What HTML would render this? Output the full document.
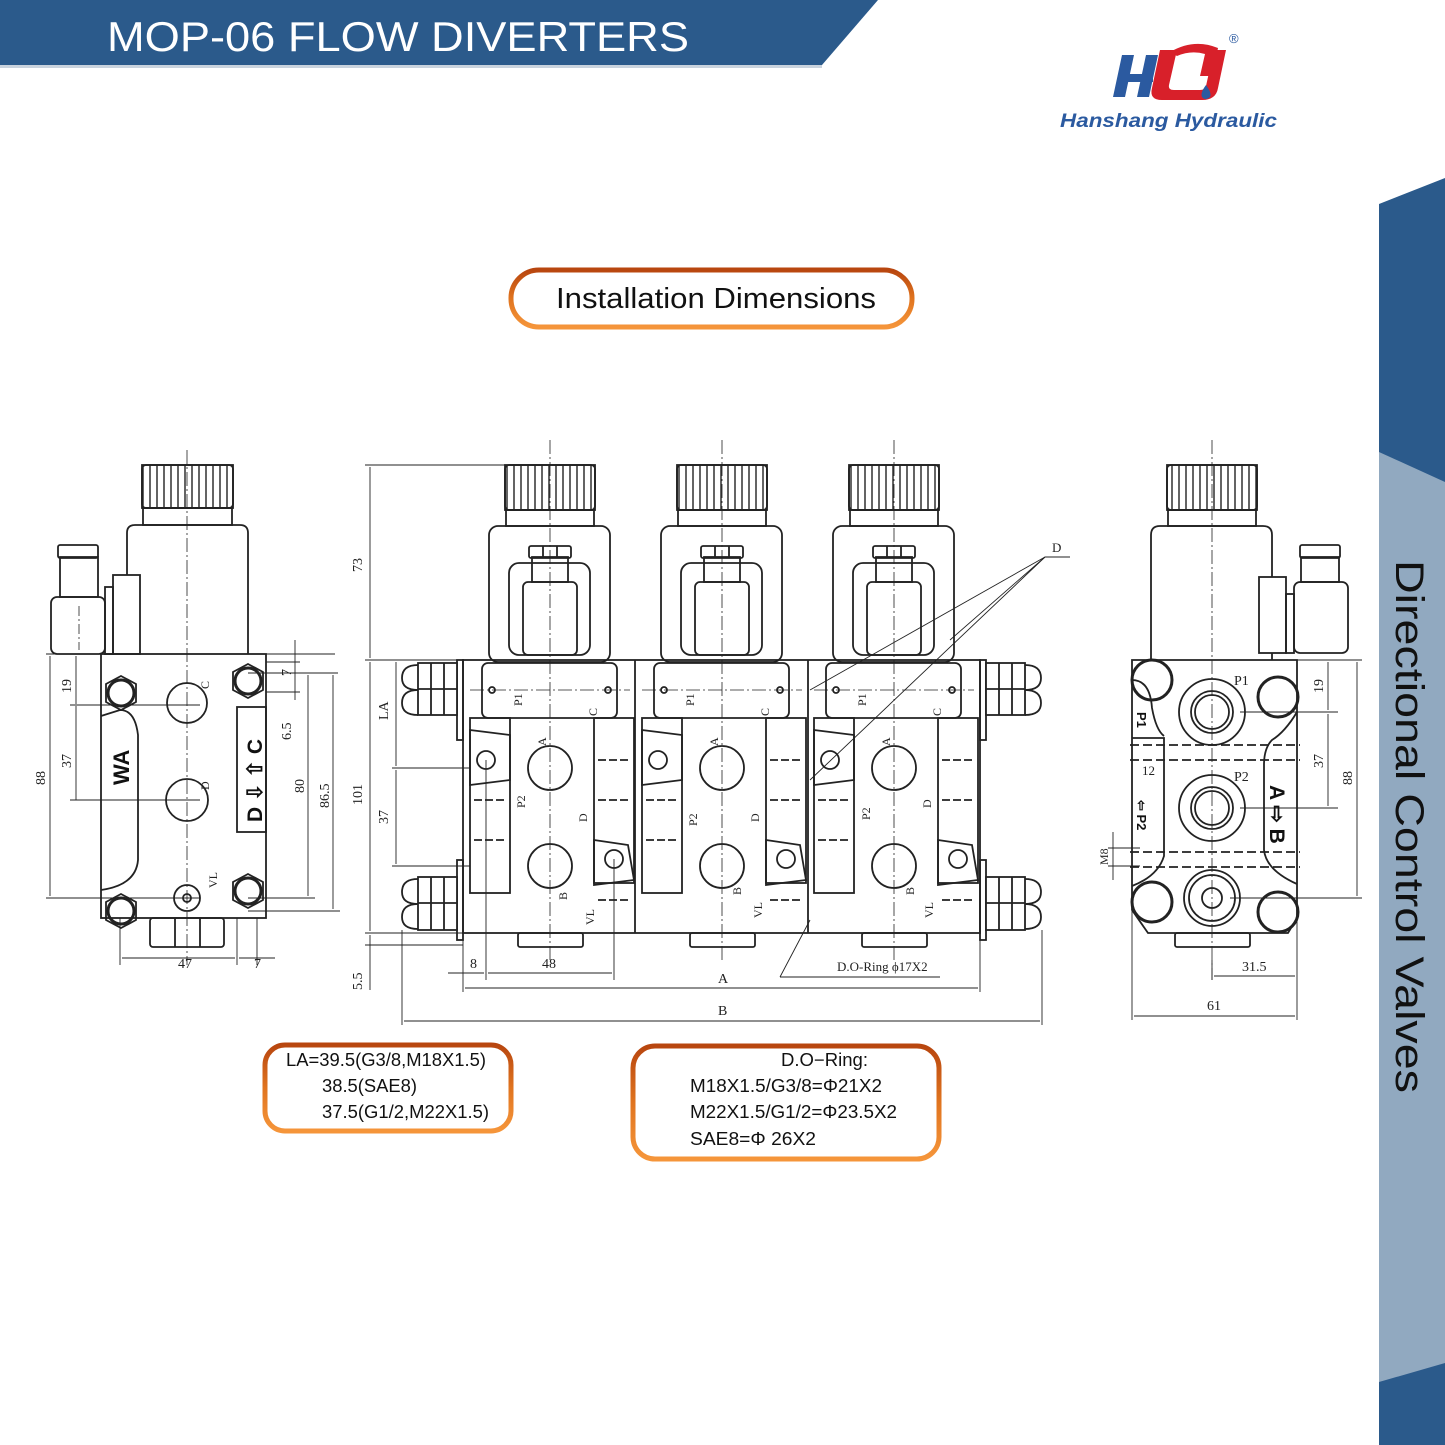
<!DOCTYPE html>
<html><head><meta charset="utf-8"><style>
html,body{margin:0;padding:0;background:#fff}
svg{display:block}
</style></head><body>
<svg width="1445" height="1445" viewBox="0 0 1445 1445" xmlns="http://www.w3.org/2000/svg">
<defs>
<linearGradient id="og" x1="0" y1="0" x2="0" y2="1">
<stop offset="0" stop-color="#b8460f"/><stop offset="0.5" stop-color="#e0741f"/><stop offset="1" stop-color="#f5953a"/>
</linearGradient>
<pattern id="kn" width="7" height="50" patternUnits="userSpaceOnUse"><line x1="3" y1="0" x2="3" y2="50" stroke="#222" stroke-width="1.4"/></pattern>
<g id="unit" fill="none" stroke="#222" stroke-width="1.8">
 <rect x="505" y="465" width="90" height="45" fill="url(#kn)"/>
 <rect x="505" y="465" width="90" height="45" rx="4"/>
 <rect x="506" y="510" width="88" height="16"/>
 <rect x="489" y="526" width="121" height="136" rx="9"/>
 <rect x="509" y="563" width="81" height="92" rx="10"/>
 <rect x="523" y="582" width="54" height="73" rx="5"/>
 <rect x="532" y="557" width="36" height="25"/>
 <rect x="529" y="546" width="42" height="12" rx="2"/>
 <line x1="543" y1="546" x2="543" y2="558"/><line x1="557" y1="546" x2="557" y2="558"/>
 <rect x="482" y="663" width="135" height="55" rx="6"/>
 <circle cx="492" cy="690" r="3"/><circle cx="608" cy="690" r="3"/>
 <circle cx="550" cy="768" r="22"/>
 <circle cx="550" cy="866" r="22"/>
 <circle cx="486" cy="760" r="9"/>
 <rect x="470" y="718" width="40" height="175"/>
 <rect x="594" y="718" width="40" height="165"/>
 <path d="M470 730 L510 735 L510 780 L470 785Z"/>
 <path d="M594 840 L628 845 L634 880 L594 885Z"/>
 <circle cx="614" cy="859" r="9"/>
 <line x1="474" y1="800" x2="505" y2="800" stroke-dasharray="8 3"/>
 <line x1="474" y1="840" x2="505" y2="840" stroke-dasharray="8 3"/>
 <line x1="598" y1="800" x2="630" y2="800" stroke-dasharray="8 3"/>
 <line x1="598" y1="760" x2="630" y2="760" stroke-dasharray="8 3"/>
 <line x1="598" y1="900" x2="630" y2="900" stroke-dasharray="8 3"/>
 <rect x="518" y="933" width="65" height="14" rx="2"/>
 <line x1="550" y1="440" x2="550" y2="960" stroke-width="0.8" stroke-dasharray="14 3 2 3"/>
 <line x1="470" y1="690" x2="630" y2="690" stroke-width="0.8" stroke-dasharray="14 3 2 3"/>
</g>
</defs>

<!-- header -->
<polygon points="0,0 878,0 822,65 0,65" fill="#2b5a8b"/>
<rect x="0" y="65" width="822" height="3" fill="#c9d3de"/>
<text x="107" y="51" font-family="Liberation Sans, sans-serif" font-size="42" fill="#fff" textLength="582" lengthAdjust="spacingAndGlyphs">MOP-06 FLOW DIVERTERS</text>

<!-- logo -->
<g>
<path d="M1122 55 h12 l-9 42 h-12z M1146 55 h12 l-9 42 h-12z M1119 74 h34 v8 h-34z" fill="#2b5aa0"/>
<path d="M1160 50 l-8 38 q-3 12 10 12 h40 q14 0 16 -12 l8 -38 h-12 l-8 36 q-1 4 -6 4 h-26 q-6 0 -5 -5 l8 -35z" fill="#d8202a"/>
<path d="M1170 52 q24 -14 48 -4 l-6 28 h-12 l5 -22 q-14 -4 -28 2z" fill="#d8202a"/>
<path d="M1206 85 q-6 8 -4 12 q3 4 8 0 q2 -4 -4 -12z" fill="#2b5aa0"/>
<text x="1229" y="43" font-family="Liberation Sans, sans-serif" font-size="13" fill="#2b5aa0">®</text>
<text x="1060" y="127" font-family="Liberation Sans, sans-serif" font-size="19" font-weight="bold" font-style="italic" fill="#2b5aa0" textLength="217" lengthAdjust="spacingAndGlyphs">Hanshang Hydraulic</text>
</g>

<!-- sidebar -->
<polygon points="1379,204 1445,178 1445,1445 1379,1445" fill="#2b5a8b"/>
<polygon points="1379,452 1445,482 1445,1363 1379,1382" fill="#91a9c0"/>
<text transform="translate(1396,560) rotate(90)" font-family="Liberation Sans, sans-serif" font-size="40" fill="#111" textLength="533" lengthAdjust="spacingAndGlyphs">Directional Control Valves</text>

<!-- Installation Dimensions -->
<rect x="511" y="270" width="401" height="57" rx="28" fill="#fff" stroke="url(#og)" stroke-width="5"/>
<text x="556" y="308" font-family="Liberation Sans, sans-serif" font-size="29" fill="#111" textLength="320" lengthAdjust="spacingAndGlyphs">Installation Dimensions</text>

<!-- LA box -->
<rect x="265" y="1045" width="246" height="86" rx="20" fill="#fff" stroke="url(#og)" stroke-width="5"/>
<g font-family="Liberation Sans, sans-serif" font-size="18" fill="#111">
<text x="286" y="1066" textLength="200" lengthAdjust="spacingAndGlyphs">LA=39.5(G3/8,M18X1.5)</text>
<text x="322" y="1092" textLength="95" lengthAdjust="spacingAndGlyphs">38.5(SAE8)</text>
<text x="322" y="1118" textLength="167" lengthAdjust="spacingAndGlyphs">37.5(G1/2,M22X1.5)</text>
</g>
<!-- D.O-Ring box -->
<rect x="633" y="1046" width="306" height="113" rx="22" fill="#fff" stroke="url(#og)" stroke-width="5"/>
<g font-family="Liberation Sans, sans-serif" font-size="18" fill="#111">
<text x="781" y="1066" textLength="87" lengthAdjust="spacingAndGlyphs">D.O−Ring:</text>
<text x="690" y="1092" textLength="192" lengthAdjust="spacingAndGlyphs">M18X1.5/G3/8=Φ21X2</text>
<text x="690" y="1118" textLength="207" lengthAdjust="spacingAndGlyphs">M22X1.5/G1/2=Φ23.5X2</text>
<text x="690" y="1145" textLength="126" lengthAdjust="spacingAndGlyphs">SAE8=Φ 26X2</text>
</g>

<!-- LEFT VIEW -->
<g fill="none" stroke="#222" stroke-width="1.8">
 <rect x="142" y="465" width="91" height="43" fill="url(#kn)"/>
 <rect x="142" y="465" width="91" height="43" rx="4"/>
 <rect x="143" y="508" width="89" height="17"/>
 <path d="M127 654 V533 q0 -8 8 -8 h105 q8 0 8 8 V654"/>
 <rect x="113" y="575" width="27" height="79" fill="#fff"/>
 <rect x="105" y="587" width="8" height="67"/>
 <rect x="51" y="597" width="54" height="57" rx="6"/>
 <rect x="60" y="557" width="38" height="40"/>
 <rect x="58" y="545" width="40" height="13" rx="2"/>
 <rect x="101" y="654" width="165" height="264"/>
 <line x1="101" y1="654" x2="335" y2="654" stroke-width="1"/>
 <path d="M101 716 L120 710 Q135 710 138 735 L138 860 Q136 885 101 890"/>
 <rect x="237" y="707" width="29" height="125"/>
 <circle cx="187" cy="703" r="20"/><circle cx="187" cy="800" r="21"/>
 <circle cx="187" cy="898" r="13"/><circle cx="187" cy="898" r="4"/>
 <g stroke-width="3"><circle cx="121" cy="693" r="13"/><circle cx="248" cy="681" r="13"/><circle cx="121" cy="911" r="13"/><circle cx="248" cy="891" r="13"/></g>
 <polygon points="121,676 136,684 136,702 121,710 106,702 106,684"/>
 <polygon points="248,664 263,672 263,690 248,698 233,690 233,672"/>
 <polygon points="121,894 136,902 136,920 121,928 106,920 106,902"/>
 <polygon points="248,874 263,882 263,900 248,908 233,900 233,882"/>
 <rect x="150" y="918" width="74" height="29" rx="3"/>
 <line x1="175" y1="918" x2="175" y2="947"/><line x1="200" y1="918" x2="200" y2="947"/>
 <line x1="187" y1="450" x2="187" y2="965" stroke-width="0.8" stroke-dasharray="14 3 2 3"/>
 <line x1="79" y1="606" x2="79" y2="650" stroke-width="0.8" stroke-dasharray="10 3 2 3"/>
</g>
<!-- left dims -->
<g stroke="#222" stroke-width="0.9" fill="none">
 <line x1="46" y1="654" x2="101" y2="654"/><line x1="46" y1="898" x2="200" y2="898"/>
 <line x1="50" y1="656" x2="50" y2="896"/>
 <line x1="76" y1="706" x2="76" y2="800"/><line x1="70" y1="705" x2="200" y2="705"/><line x1="70" y1="800" x2="200" y2="800"/>
 <line x1="76" y1="656" x2="76" y2="704"/>
 <line x1="248" y1="673" x2="338" y2="673"/><line x1="248" y1="898" x2="315" y2="898"/><line x1="248" y1="911" x2="340" y2="911"/>
 <line x1="308" y1="675" x2="308" y2="896"/><line x1="333" y1="675" x2="333" y2="909"/>
 <line x1="295" y1="640" x2="295" y2="700"/><line x1="266" y1="662" x2="300" y2="662"/><line x1="266" y1="692" x2="300" y2="692"/>
 <line x1="120" y1="918" x2="120" y2="965"/><line x1="237" y1="918" x2="237" y2="965"/><line x1="257" y1="918" x2="257" y2="965"/>
 <line x1="122" y1="958" x2="235" y2="958"/><line x1="239" y1="958" x2="275" y2="958"/>
</g>
<g font-family="Liberation Serif, serif" font-size="14" fill="#222">
 <text transform="translate(45,785) rotate(-90)">88</text>
 <text transform="translate(71,768) rotate(-90)">37</text>
 <text transform="translate(71,693) rotate(-90)">19</text>
 <text transform="translate(304,793) rotate(-90)">80</text>
 <text transform="translate(329,808) rotate(-90)">86.5</text>
 <text transform="translate(291,740) rotate(-90)">6.5</text>
 <text transform="translate(291,676) rotate(-90)">7</text>
 <text x="178" y="968">47</text><text x="254" y="968">7</text>
 <text transform="translate(209,689) rotate(-90)" font-size="12">C</text>
 <text transform="translate(209,790) rotate(-90)" font-size="12">D</text>
 <text transform="translate(217,888) rotate(-90)" font-size="12">VL</text>
</g>
<g font-family="Liberation Sans, sans-serif" font-weight="bold" fill="#111">
 <text transform="translate(129,785) rotate(-90)" font-size="22">WA</text>
 <text transform="translate(262,822) rotate(-90)" font-size="21">D ⇩ ⇧ C</text>
</g>

<!-- MIDDLE VIEW -->
<g fill="none" stroke="#222" stroke-width="1.8">
 <rect x="463" y="660" width="517" height="273"/>
 <line x1="635" y1="660" x2="635" y2="933"/><line x1="808" y1="660" x2="808" y2="933"/>
 <rect x="457" y="660" width="6" height="80"/><rect x="457" y="860" width="6" height="80"/>
 <rect x="980" y="660" width="6" height="80"/><rect x="980" y="860" width="6" height="80"/>
</g>
<use href="#unit"/>
<use href="#unit" transform="translate(172,0)"/>
<use href="#unit" transform="translate(344,0)"/>
<g fill="none" stroke="#222" stroke-width="1.8">
 <rect x="418" y="663" width="39" height="52" fill="#fff"/><path d="M418 665 q-16 0 -16 13 q0 12 16 12 M418 690 q-16 0 -16 13 q0 12 16 12"/>
 <line x1="431" y1="663" x2="431" y2="715"/><line x1="444" y1="663" x2="444" y2="715"/><line x1="418" y1="689" x2="457" y2="689"/>
 <rect x="418" y="877" width="39" height="53" fill="#fff"/><path d="M418 879 q-16 0 -16 13 q0 12 16 12 M418 904 q-16 0 -16 13 q0 12 16 12"/>
 <line x1="431" y1="877" x2="431" y2="930"/><line x1="444" y1="877" x2="444" y2="930"/><line x1="418" y1="903" x2="457" y2="903"/>
 <rect x="986" y="663" width="39" height="52" fill="#fff"/><path d="M1025 665 q16 0 16 13 q0 12 -16 12 M1025 690 q16 0 16 13 q0 12 -16 12"/>
 <line x1="999" y1="663" x2="999" y2="715"/><line x1="1012" y1="663" x2="1012" y2="715"/><line x1="986" y1="689" x2="1025" y2="689"/>
 <rect x="986" y="877" width="39" height="53" fill="#fff"/><path d="M1025 879 q16 0 16 13 q0 12 -16 12 M1025 904 q16 0 16 13 q0 12 -16 12"/>
 <line x1="999" y1="877" x2="999" y2="930"/><line x1="1012" y1="877" x2="1012" y2="930"/><line x1="986" y1="903" x2="1025" y2="903"/>
</g>
<!-- middle dims -->
<g stroke="#222" stroke-width="0.9" fill="none">
 <line x1="365" y1="465" x2="505" y2="465"/><line x1="365" y1="660" x2="463" y2="660"/><line x1="365" y1="933" x2="463" y2="933"/><line x1="365" y1="945" x2="463" y2="945"/>
 <line x1="370" y1="467" x2="370" y2="658"/><line x1="370" y1="662" x2="370" y2="931"/><line x1="370" y1="935" x2="370" y2="990"/>
 <line x1="396" y1="662" x2="396" y2="766"/><line x1="396" y1="770" x2="396" y2="864"/>
 <line x1="392" y1="768" x2="470" y2="768"/><line x1="392" y1="866" x2="470" y2="866"/>
 <line x1="463" y1="933" x2="463" y2="992"/><line x1="486" y1="760" x2="486" y2="980"/><line x1="614" y1="859" x2="614" y2="980"/>
 <line x1="448" y1="973" x2="484" y2="973"/><line x1="488" y1="973" x2="612" y2="973"/>
 <line x1="465" y1="988" x2="978" y2="988"/><line x1="980" y1="933" x2="980" y2="992"/>
 <line x1="402" y1="930" x2="402" y2="1025"/><line x1="1042" y1="930" x2="1042" y2="1025"/>
 <line x1="404" y1="1021" x2="1040" y2="1021"/>
 <line x1="780" y1="977" x2="940" y2="977"/><line x1="780" y1="977" x2="810" y2="920"/>
 <line x1="1045" y1="557" x2="1070" y2="557"/>
 <line x1="1045" y1="557" x2="810" y2="690"/><line x1="1045" y1="557" x2="810" y2="780"/><line x1="1045" y1="557" x2="950" y2="640"/>
</g>
<g font-family="Liberation Serif, serif" font-size="14" fill="#222">
 <text transform="translate(362,572) rotate(-90)">73</text>
 <text transform="translate(362,805) rotate(-90)">101</text>
 <text transform="translate(388,720) rotate(-90)">LA</text>
 <text transform="translate(388,824) rotate(-90)">37</text>
 <text transform="translate(362,990) rotate(-90)">5.5</text>
 <text x="470" y="968">8</text><text x="542" y="968">48</text>
 <text x="718" y="983">A</text><text x="718" y="1015">B</text>
 <text x="837" y="971" font-size="13">D.O-Ring  ϕ17X2</text>
 <text x="1052" y="552" font-size="13">D</text>
</g>
<g font-family="Liberation Serif, serif" font-size="12" fill="#222">
 <text transform="translate(522,706) rotate(-90)">P1</text><text transform="translate(694,706) rotate(-90)">P1</text><text transform="translate(866,706) rotate(-90)">P1</text>
 <text transform="translate(597,716) rotate(-90)">C</text><text transform="translate(769,716) rotate(-90)">C</text><text transform="translate(941,716) rotate(-90)">C</text>
 <text transform="translate(546,746) rotate(-90)">A</text><text transform="translate(718,746) rotate(-90)">A</text><text transform="translate(890,746) rotate(-90)">A</text>
 <text transform="translate(525,808) rotate(-90)">P2</text><text transform="translate(697,826) rotate(-90)">P2</text><text transform="translate(870,820) rotate(-90)">P2</text>
 <text transform="translate(587,822) rotate(-90)">D</text><text transform="translate(759,822) rotate(-90)">D</text><text transform="translate(931,808) rotate(-90)">D</text>
 <text transform="translate(567,900) rotate(-90)">B</text><text transform="translate(741,895) rotate(-90)">B</text><text transform="translate(914,895) rotate(-90)">B</text>
 <text transform="translate(594,925) rotate(-90)">VL</text><text transform="translate(762,918) rotate(-90)">VL</text><text transform="translate(933,918) rotate(-90)">VL</text>
</g>

<!-- RIGHT VIEW -->
<g fill="none" stroke="#222" stroke-width="1.8">
 <rect x="1167" y="465" width="90" height="45" fill="url(#kn)"/>
 <rect x="1167" y="465" width="90" height="45" rx="4"/>
 <rect x="1168" y="510" width="88" height="16"/>
 <path d="M1151 660 V535 q0 -9 9 -9 h103 q9 0 9 9 V660"/>
 <rect x="1259" y="577" width="27" height="76" fill="#fff"/>
 <rect x="1286" y="594" width="8" height="59"/>
 <rect x="1294" y="582" width="54" height="71" rx="6"/>
 <rect x="1301" y="557" width="38" height="25"/>
 <rect x="1300" y="545" width="40" height="13" rx="2"/>
 <path d="M1132 660 H1297 V918 L1288 933 H1148 L1132 910 Z"/>
 <path d="M1132 680 q18 0 20 28 q4 22 12 28 M1297 712 q-12 20 -25 28 q-8 8 -8 25 V850 q2 20 33 34"/>
 <path d="M1132 738 h32 v118 q-6 20 -32 30"/>
 <circle cx="1212" cy="712" r="33"/><circle cx="1212" cy="712" r="21"/><circle cx="1212" cy="712" r="17"/>
 <circle cx="1212" cy="808" r="33"/><circle cx="1212" cy="808" r="21"/><circle cx="1212" cy="808" r="17"/>
 <circle cx="1212" cy="898" r="28"/><circle cx="1212" cy="898" r="23"/><circle cx="1212" cy="898" r="10"/>
 <g stroke-width="3"><circle cx="1152" cy="680" r="20"/><circle cx="1278" cy="697" r="20"/><circle cx="1152" cy="902" r="20"/><circle cx="1278" cy="912" r="20"/></g>
 <rect x="1175" y="933" width="75" height="14" rx="2"/>
 <line x1="1212" y1="440" x2="1212" y2="980" stroke-width="0.8" stroke-dasharray="14 3 2 3"/>
 <line x1="1130" y1="745" x2="1300" y2="745" stroke-dasharray="9 4"/><line x1="1130" y1="760" x2="1300" y2="760" stroke-dasharray="9 4"/>
 <line x1="1130" y1="852" x2="1300" y2="852" stroke-dasharray="9 4"/><line x1="1130" y1="867" x2="1300" y2="867" stroke-dasharray="9 4"/>
</g>
<g stroke="#222" stroke-width="0.9" fill="none">
 <line x1="1297" y1="660" x2="1362" y2="660"/><line x1="1240" y1="712" x2="1338" y2="712"/><line x1="1240" y1="808" x2="1338" y2="808"/><line x1="1230" y1="898" x2="1362" y2="898"/>
 <line x1="1328" y1="662" x2="1328" y2="710"/><line x1="1328" y1="714" x2="1328" y2="806"/><line x1="1357" y1="662" x2="1357" y2="896"/>
 <line x1="1212" y1="960" x2="1212" y2="980"/><line x1="1297" y1="918" x2="1297" y2="1020"/><line x1="1132" y1="910" x2="1132" y2="1020"/>
 <line x1="1214" y1="976" x2="1295" y2="976"/><line x1="1134" y1="1016" x2="1295" y2="1016"/>
 <line x1="1113" y1="832" x2="1113" y2="880"/><line x1="1108" y1="848" x2="1140" y2="848"/><line x1="1108" y1="866" x2="1140" y2="866"/>
</g>
<g font-family="Liberation Serif, serif" font-size="14" fill="#222">
 <text transform="translate(1323,693) rotate(-90)">19</text>
 <text transform="translate(1323,768) rotate(-90)">37</text>
 <text transform="translate(1352,785) rotate(-90)">88</text>
 <text transform="translate(1108,865) rotate(-90)" font-size="12">M8</text>
 <text x="1242" y="971">31.5</text><text x="1207" y="1010">61</text>
 <text x="1234" y="685">P1</text><text x="1234" y="781">P2</text><text x="1142" y="775" font-size="13">12</text>
</g>
<g font-family="Liberation Sans, sans-serif" font-weight="bold" fill="#111">
 <text transform="translate(1137,712) rotate(90)" font-size="13">P1</text>
 <text transform="translate(1137,800) rotate(90)" font-size="13">⇦ P2</text>
 <text transform="translate(1270,785) rotate(90)" font-size="21">A ⇨ B</text>
</g>
</svg>
</body></html>
